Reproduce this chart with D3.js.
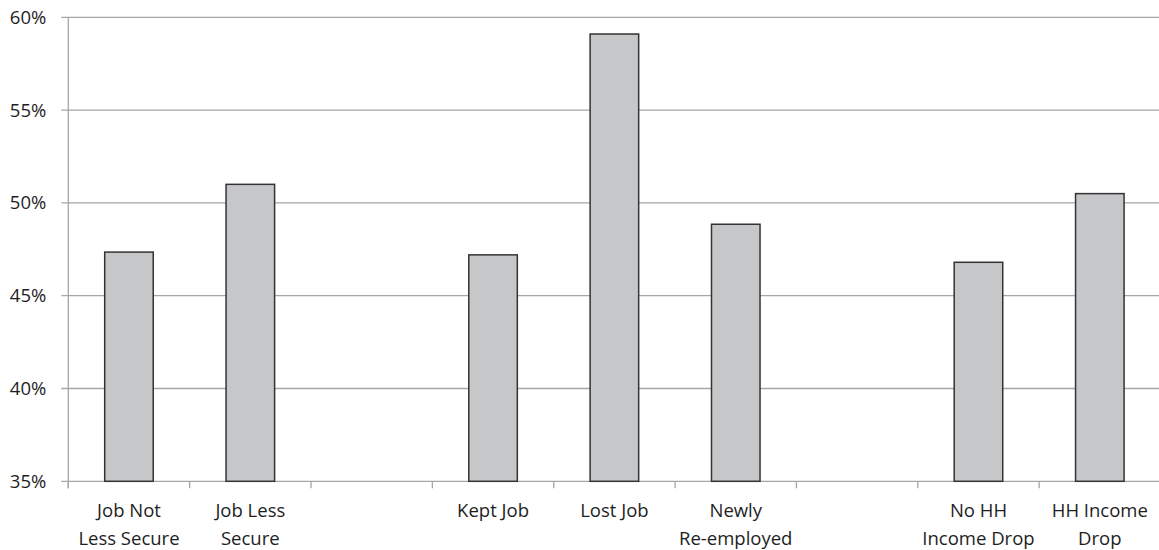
<!DOCTYPE html>
<html>
<head>
<meta charset="utf-8">
<script src="https://cdn.jsdelivr.net/npm/d3@7"></script>
<style>
  html, body { margin: 0; padding: 0; background: #fff; }
  svg text { font-family: "Open Sans", "DejaVu Sans", sans-serif; fill: #1e1e1e; }
</style>
</head>
<body>
<svg id="chart" width="1159" height="550"></svg>
<script>
// Category slots along the x axis (empty strings are spacer slots between groups)
const categories = ["Job Not\nLess Secure", "Job Less\nSecure", "", "Kept Job", "Lost Job", "Newly\nRe-employed", "", "No HH\nIncome Drop", "HH Income\nDrop"];
// Share of respondents (%) for each slot; null = no bar
const values = [47.35, 51.0, null, 47.2, 59.1, 48.85, null, 46.8, 50.5];
// Y axis ticks (%)
const yTicks = [35, 40, 45, 50, 55, 60];

const svg = d3.select("#chart");
const margin = { left: 68.3, right: -1.5, top: 17.3, bottom: 68.7 };
const W = 1159, H = 550;
const fontSize = "18.5px";

const x = d3.scaleBand()
  .domain(d3.range(categories.length))
  .range([margin.left, W - margin.right])
  .padding(0);

const y = d3.scaleLinear()
  .domain([35, 60])
  .range([H - margin.bottom, margin.top]);

// Horizontal gridlines
svg.append("g")
  .selectAll("line")
  .data(yTicks)
  .join("line")
  .attr("x1", margin.left - 7)
  .attr("x2", W)
  .attr("y1", d => y(d))
  .attr("y2", d => y(d))
  .attr("stroke", "#a6a6a6")
  .attr("stroke-width", 1.3);

// Y axis labels
const yAxis = d3.axisLeft(y).tickValues(yTicks).tickFormat(d => d + "%").tickSize(0).tickPadding(22);
const gy = svg.append("g").attr("transform", `translate(${margin.left},0)`).call(yAxis);
gy.select(".domain").remove();
gy.selectAll("text").style("font-size", fontSize).attr("fill", "#1e1e1e");

// Vertical axis line
svg.append("line")
  .attr("x1", margin.left).attr("x2", margin.left)
  .attr("y1", y(60)).attr("y2", y(35) + 7)
  .attr("stroke", "#a6a6a6").attr("stroke-width", 1.3);

// Category boundary ticks under the baseline
const bounds = d3.range(categories.length + 1).map(i => margin.left + i * x.step());
svg.append("g")
  .selectAll("line")
  .data(bounds)
  .join("line")
  .attr("x1", d => d).attr("x2", d => d)
  .attr("y1", y(35)).attr("y2", y(35) + 7)
  .attr("stroke", "#a6a6a6").attr("stroke-width", 1.3);

// Bars
const barW = x.bandwidth() * 0.4;
svg.append("g")
  .selectAll("rect")
  .data(values.map((v, i) => ({ v, i })).filter(d => d.v !== null))
  .join("rect")
  .attr("x", d => x(d.i) + (x.bandwidth() - barW) / 2)
  .attr("width", barW)
  .attr("y", d => y(d.v))
  .attr("height", d => y(35) - y(d.v))
  .attr("fill", "#c6c7c9")
  .attr("stroke", "#333")
  .attr("stroke-width", 1.5);

// Category labels (two lines where needed)
const labels = svg.append("g")
  .selectAll("text")
  .data(categories.map((c, i) => ({ c, i })).filter(d => d.c !== ""))
  .join("text")
  .attr("text-anchor", "middle")
  .style("font-size", fontSize)
  .attr("x", d => x(d.i) + x.bandwidth() / 2)
  .attr("y", 517);
labels.selectAll("tspan")
  .data(d => d.c.split("\n").map(s => ({ s, x: x(d.i) + x.bandwidth() / 2 })))
  .join("tspan")
  .attr("x", d => d.x)
  .attr("dy", (d, k) => k === 0 ? 0 : 28)
  .text(d => d.s);
</script>
</body>
</html>
